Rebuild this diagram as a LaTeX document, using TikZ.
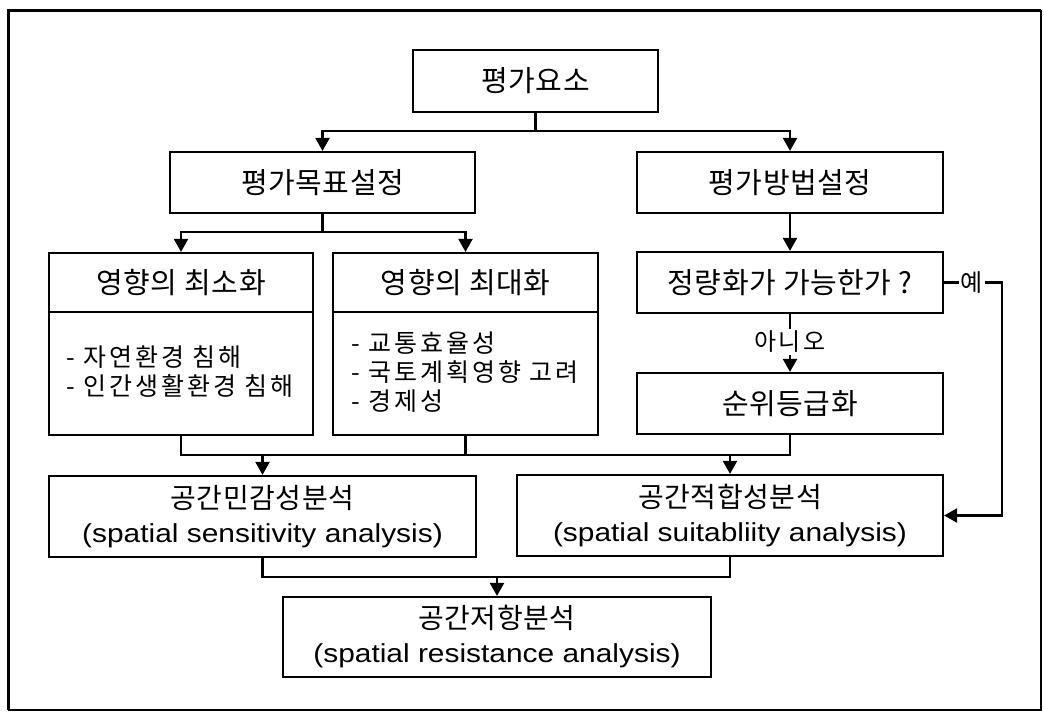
\documentclass[tikz,border=0pt]{standalone}
\usepackage{fontspec}
\setmainfont{Noto Sans CJK KR}
\newfontfamily\kofont{Noto Sans CJK KR}[LetterSpace=2]
\newfontfamily\kolist{Noto Sans CJK KR}[LetterSpace=12]
\newfontfamily\enfont{Liberation Sans}[FakeStretch=1.15]
\usetikzlibrary{arrows.meta,calc}
\begin{document}
\begin{tikzpicture}[x=1pt,y=-1pt,
  box/.style={draw,line width=2.2pt,inner sep=0pt,rectangle,align=center},
  ttl/.style={font=\kofont\fontsize{29}{32}\selectfont},
  lst/.style={font=\kolist\fontsize{25}{29}\selectfont,align=left,inner sep=0pt},
  lbl/.style={font=\kolist\fontsize{24}{28}\selectfont,inner sep=2pt},
  two/.style={font=\fontsize{26}{34}\selectfont},
  conn/.style={line width=2.2pt},
  arr/.style={conn,-{Triangle[width=14pt,length=13pt]}}]
\useasboundingbox (0,0) rectangle (1044,712);
% frame
\draw[line width=1.2pt] (1041,10) -- (1041,710) -- (8,710);
\draw[line width=3pt] (8,710) -- (8,10) -- (1041,10);
% boxes
\node[box,ttl,minimum width=245pt,minimum height=62pt] (top) at (535.5,81) {평가요소};
\node[box,ttl,minimum width=305pt,minimum height=61pt] (goal) at (322.5,182.5) {평가목표설정};
\node[box,ttl,minimum width=306pt,minimum height=61pt] (method) at (790,182.5) {평가방법설정};
\node[box,minimum width=264pt,minimum height=182pt] (minb) at (181,344) {};
\node[ttl] (mint) at (181,283) {영향의 최소화};
\node[lst] (minl) at (180,372) {- 자연환경 침해\\- 인간생활환경 침해};
\node[box,minimum width=265pt,minimum height=182pt] (maxb) at (465.5,344) {};
\node[ttl] (maxt) at (465.5,283) {영향의 최대화};
\node[lst] (maxl) at (465,372) {- 교통효율성\\- 국토계획영향 고려\\- 경제성};
\node[box,ttl,minimum width=306pt,minimum height=61pt] (quant) at (790,282.5) {정량화가 가능한가 ?};
\node[box,ttl,minimum width=306pt,minimum height=61pt] (rank) at (790,403.5) {순위등급화};
\node[box,two,minimum width=427pt,minimum height=81pt] (sens) at (262.5,516.5) {{\kofont\fontsize{28}{34}\selectfont 공간민감성분석}\\{\enfont (spatial sensitivity analysis)}};
\node[box,two,minimum width=426pt,minimum height=81pt] (suit) at (730,515.5) {{\kofont\fontsize{28}{34}\selectfont 공간적합성분석}\\{\enfont (spatial suitabliity analysis)}};
\node[box,two,minimum width=428pt,minimum height=80pt] (resist) at (497,637) {{\kofont\fontsize{28}{34}\selectfont 공간저항분석}\\{\enfont (spatial resistance analysis)}};
% dividers
\draw[conn] ([yshift=-60pt]minb.north west) -- ([yshift=-60pt]minb.north east);
\draw[conn] ([yshift=-60pt]maxb.north west) -- ([yshift=-60pt]maxb.north east);
% labels
\node[lbl] (no) at (790,342) {아니오};
\node[lbl] (yes) at (972,282.5) {예};
% connectors
\coordinate (j1) at (535.5,131);
\draw[conn] (top.south) -- (j1);
\draw[arr] (j1) -| (goal.north);
\draw[arr] (j1) -| (method.north);
\coordinate (j2) at (322.5,232);
\draw[conn] (goal.south) -- (j2);
\draw[arr] (j2) -| (minb.north);
\draw[arr] (j2) -| (maxb.north);
\draw[arr] (method.south) -- (quant.north);
\draw[conn] (quant.south) -- (no.north);
\draw[arr] (no.south) -- (rank.north);
\draw[conn] (quant.east) -- (yes.west);
\coordinate (yc) at (1002,282.5);
\draw[arr] (yes.east) -- (yc) |- (suit.east);
\coordinate (j3) at (262.5,455);
\coordinate (j4) at (730,455);
\draw[conn] (minb.south) |- (j3) -- (j4) -| (rank.south);
\draw[conn] (maxb.south) -- (maxb.south |- j3);
\draw[arr] (j3) -- (sens.north);
\draw[arr] (j4) -- (suit.north);
\coordinate (j5) at (497,577);
\draw[conn] (sens.south) |- (j5) -| (suit.south);
\draw[arr] (j5) -- (resist.north);
\end{tikzpicture}
\end{document}
